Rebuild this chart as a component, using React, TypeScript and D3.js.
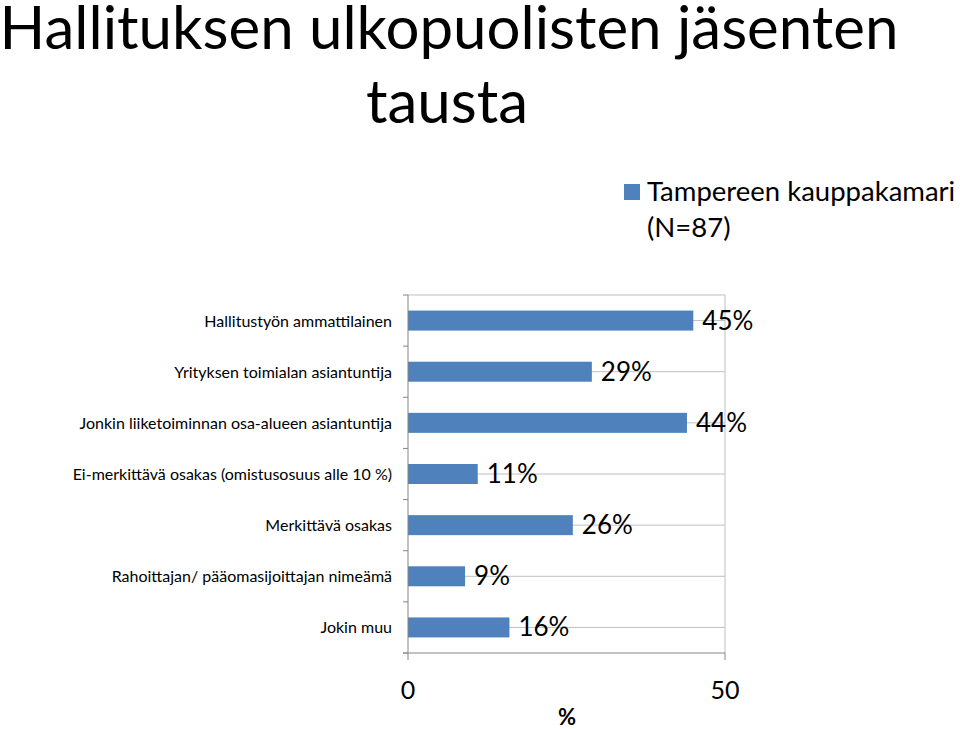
import React from "react";
import * as d3 from "d3";

const categories = [
  "Hallitustyön ammattilainen",
  "Yrityksen toimialan asiantuntija",
  "Jonkin liiketoiminnan osa-alueen asiantuntija",
  "Ei-merkittävä osakas (omistusosuus alle 10 %)",
  "Merkittävä osakas",
  "Rahoittajan/ pääomasijoittajan nimeämä",
  "Jokin muu",
];
const values = [45, 29, 44, 11, 26, 9, 16];
const xTicks = [0, 50];
const seriesName = "Tampereen kauppakamari";
const seriesNote = "(N=87)";
const titleLines = ["Hallituksen ulkopuolisten jäsenten", "tausta"];
const axisTitle = "%";

const W = 960;
const H = 729;
const FONT = "Lato, 'Open Sans', sans-serif";
const BLUE = "#4f81bd";

export default function App() {
  const left = 408, right = 725, top = 295, bottom = 653;
  const x = d3.scaleLinear().domain([0, 50]).range([left, right]);
  const y = d3.scaleBand().domain(categories).range([top, bottom]).paddingInner(0).paddingOuter(0);
  const bw = y.bandwidth();
  const barH = 20;
  const boundaries = d3.range(categories.length + 1).map((i) => top + i * bw);

  return (
    <svg width={W} height={H} style={{ position: "absolute", left: 0, top: 0, background: "#fff" }} fontFamily={FONT}>
      <rect width={W} height={H} fill="#fff" />
      <text x={449} y={49} fontSize={60} textAnchor="middle" fill="#000">{titleLines[0]}</text>
      <text x={447} y={123} fontSize={60} textAnchor="middle" fill="#000">{titleLines[1]}</text>

      <rect x={624} y={184} width={16} height={16} fill={BLUE} />
      <text x={647} y={201} fontSize={27.5} fill="#000">{seriesName}</text>
      <text x={647} y={237} fontSize={27.5} fill="#000">{seriesNote}</text>

      {/* plot frame */}
      <line x1={left} x2={right} y1={top} y2={top} stroke="#bfbfbf" />
      <line x1={right} x2={right} y1={top} y2={bottom} stroke="#bfbfbf" />
      {categories.map((c) => (
        <line key={"g" + c} x1={left} x2={right} y1={(y(c) as number) + bw / 2} y2={(y(c) as number) + bw / 2} stroke="#bfbfbf" />
      ))}
      {values.map((v, i) => {
        const c = categories[i];
        const cy = (y(c) as number) + bw / 2;
        return (
          <g key={"b" + c}>
            <rect x={x(0)} y={cy - barH / 2} width={x(v) - x(0)} height={barH} fill={BLUE} />
            <text x={x(v) + 9} y={cy + 9} fontSize={26} fill="#000">{v}%</text>
            <text x={392} y={cy + 6} fontSize={16} textAnchor="end" fill="#000">{c}</text>
          </g>
        );
      })}
      <line x1={left} x2={left} y1={top} y2={bottom} stroke="#868686" />
      {boundaries.map((b, i) => (
        <line key={"t" + i} x1={left - 5} x2={left} y1={b} y2={b} stroke="#868686" />
      ))}
      <line x1={left - 5} x2={right} y1={bottom} y2={bottom} stroke="#868686" />
      {xTicks.map((t) => (
        <g key={"x" + t}>
          <line x1={x(t)} x2={x(t)} y1={bottom} y2={bottom + 7} stroke="#868686" />
          <text x={x(t)} y={699} fontSize={25} textAnchor="middle" fill="#000">{t}</text>
        </g>
      ))}
      <text x={567} y={725} fontSize={22} fontWeight="bold" textAnchor="middle" fill="#000">{axisTitle}</text>
    </svg>
  );
}
